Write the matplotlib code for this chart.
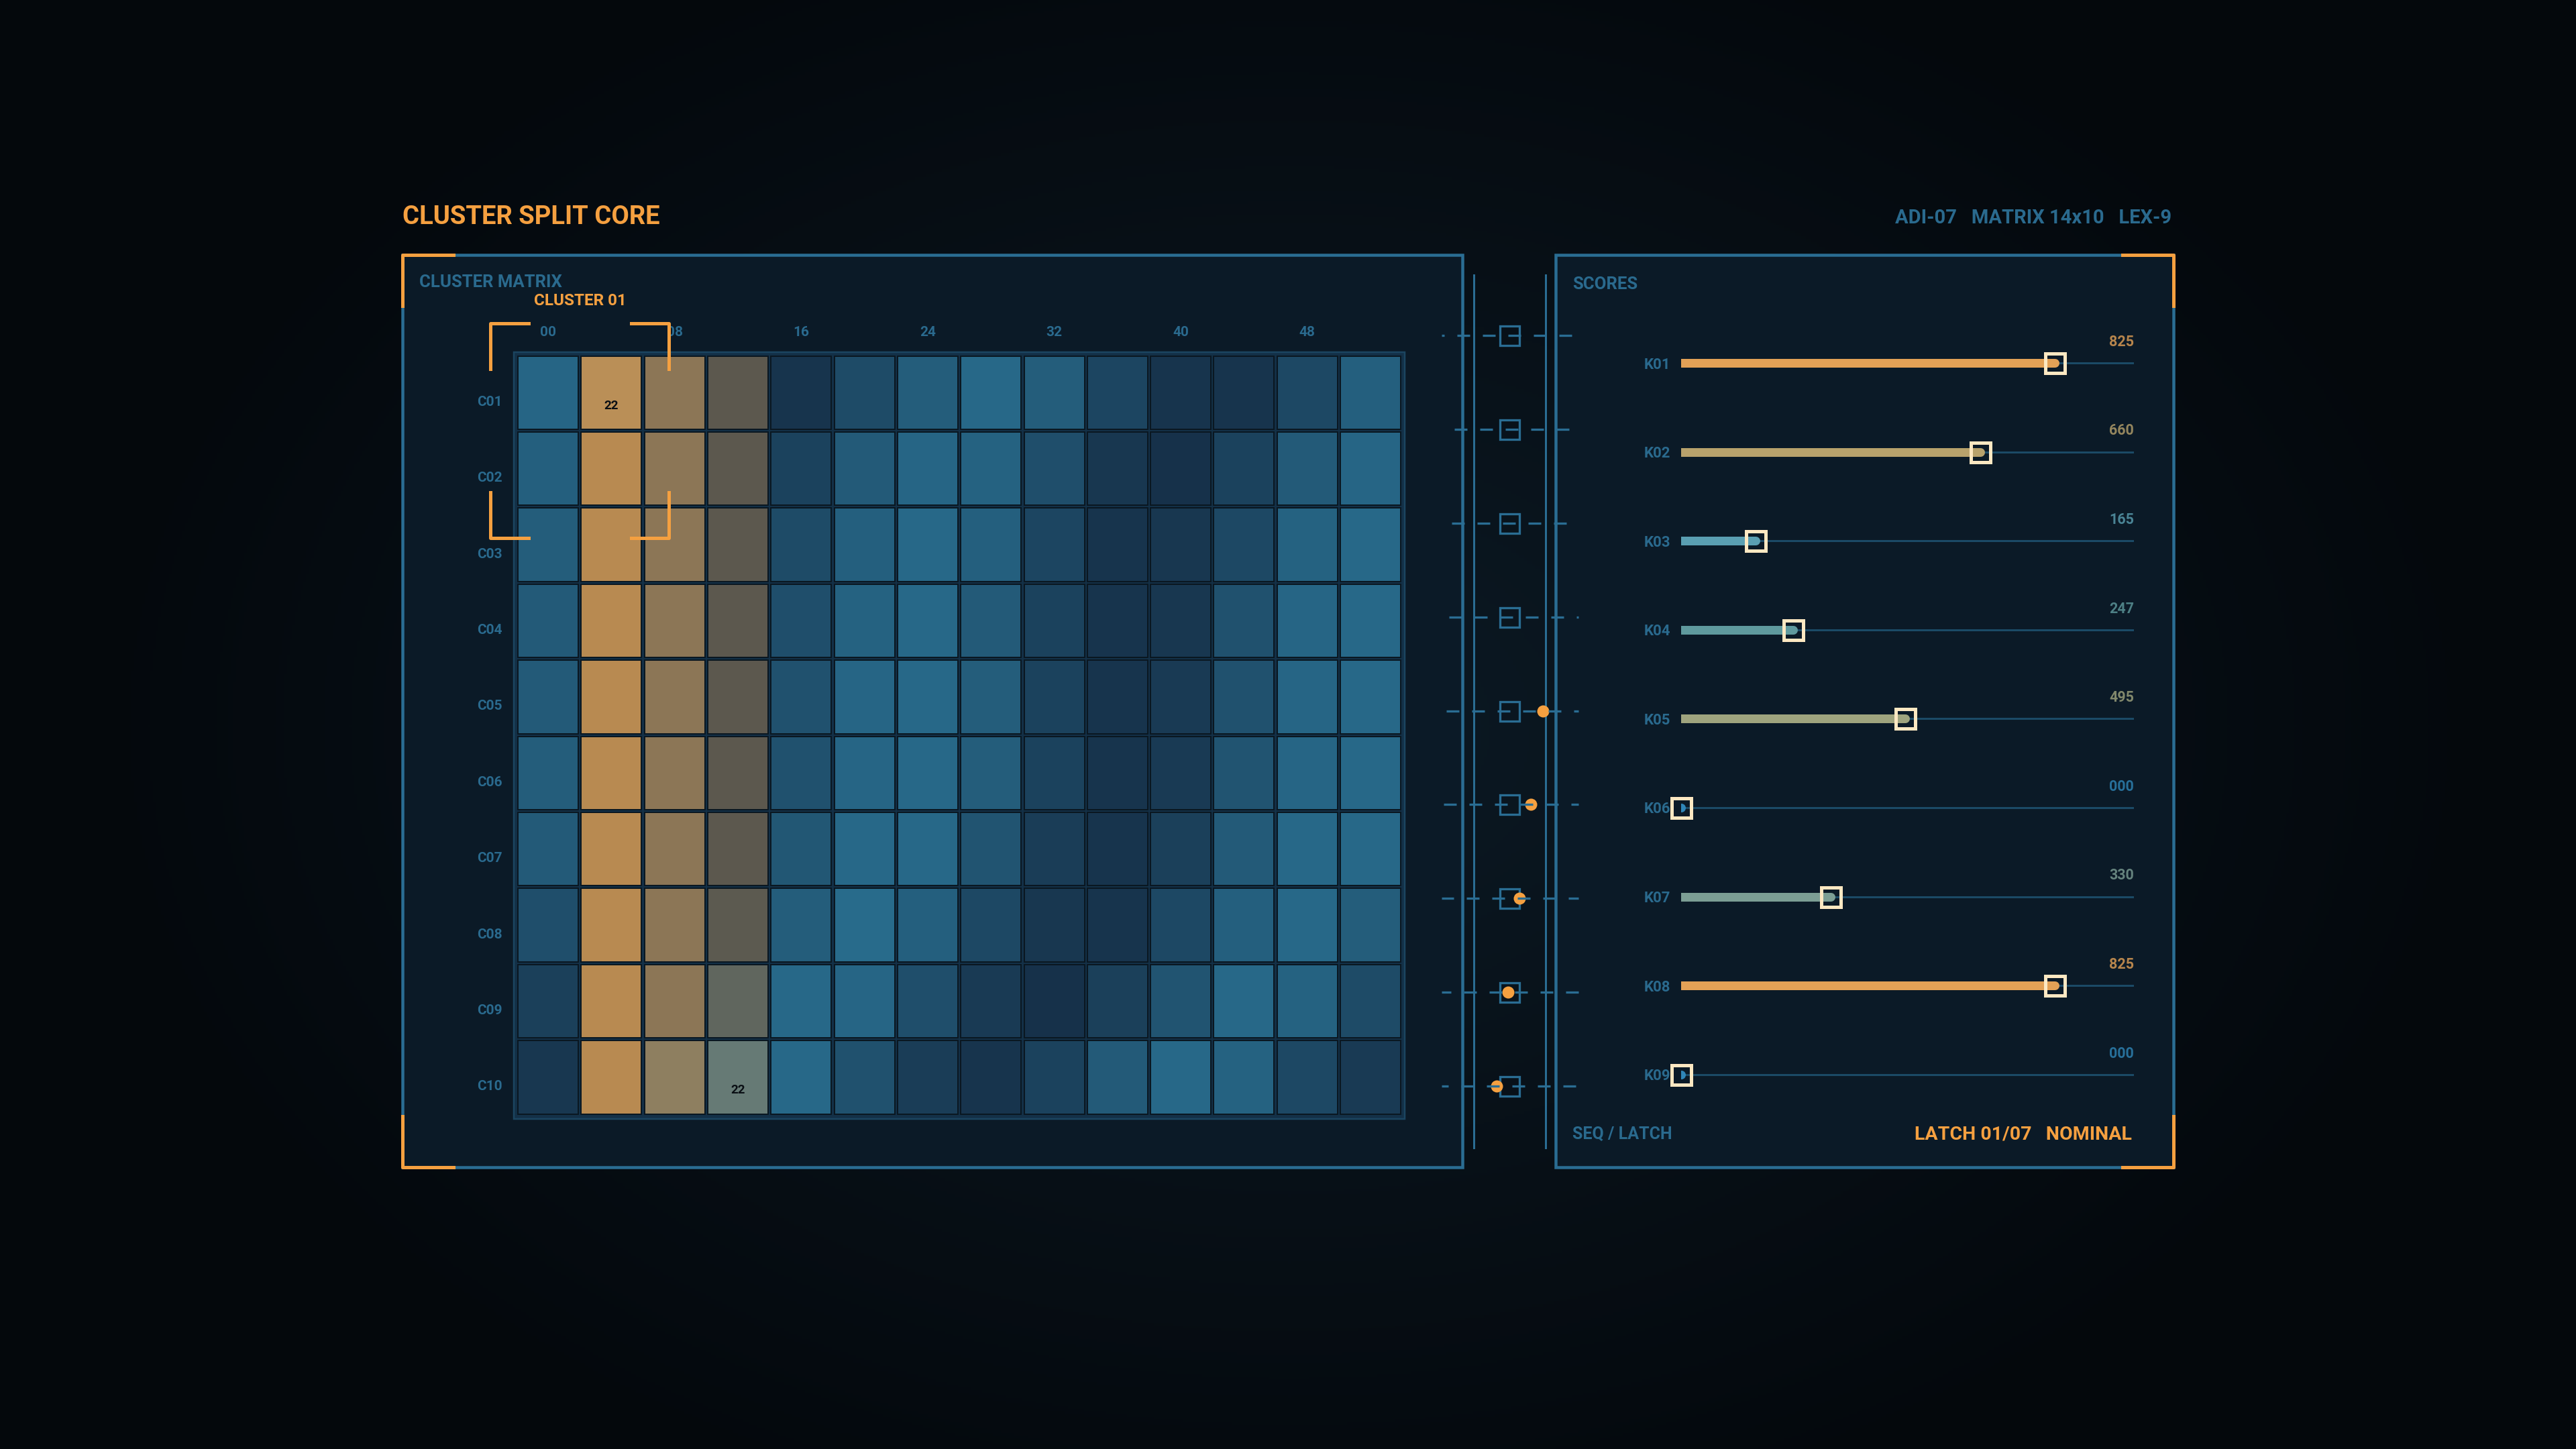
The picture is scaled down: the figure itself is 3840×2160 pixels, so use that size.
import numpy as np
import matplotlib.pyplot as plt
from matplotlib.patches import Rectangle
from matplotlib.colors import LinearSegmentedColormap, Normalize, to_rgb
import matplotlib.transforms as mtransforms

plt.rcParams['font.family'] = ['Liberation Sans Narrow', 'Roboto', 'DejaVu Sans']
plt.rcParams['font.weight'] = 'bold'
plt.rcParams['lines.scale_dashes'] = False

W, H = 3840, 2160
PX = 0.72  # points per pixel at dpi 100

# ---- data ----
row_labels = [f"C{i:02d}" for i in range(1, 11)]
col_ticks = list(range(0, 14, 2))
col_tick_labels = [f"{c * 4:02d}" for c in col_ticks]

# cell intensity (0 dark .. 1 bright), rows C01..C10, 14 columns
matrix = np.array([
    [0.90, 1.00, 0.50, 0.15, 0.05, 0.45, 0.75, 0.95, 0.75, 0.35, 0.05, 0.05, 0.40, 0.80],
    [0.80, 0.70, 0.50, 0.15, 0.30, 0.70, 0.90, 0.85, 0.50, 0.10, 0.00, 0.30, 0.70, 0.90],
    [0.75, 0.70, 0.50, 0.15, 0.45, 0.80, 0.95, 0.80, 0.35, 0.05, 0.10, 0.40, 0.85, 0.95],
    [0.70, 0.70, 0.50, 0.15, 0.50, 0.85, 0.95, 0.70, 0.30, 0.05, 0.10, 0.55, 0.90, 0.95],
    [0.70, 0.70, 0.50, 0.15, 0.55, 0.90, 0.95, 0.75, 0.30, 0.05, 0.15, 0.55, 0.90, 0.95],
    [0.75, 0.70, 0.50, 0.15, 0.55, 0.90, 0.95, 0.75, 0.30, 0.05, 0.15, 0.60, 0.90, 0.95],
    [0.70, 0.70, 0.50, 0.15, 0.65, 0.95, 0.95, 0.60, 0.20, 0.05, 0.25, 0.70, 0.95, 0.95],
    [0.50, 0.70, 0.50, 0.20, 0.75, 1.00, 0.80, 0.40, 0.10, 0.05, 0.40, 0.80, 0.95, 0.75],
    [0.25, 0.70, 0.50, 0.50, 0.95, 0.90, 0.50, 0.15, 0.00, 0.25, 0.60, 0.95, 0.85, 0.45],
    [0.10, 0.70, 0.80, 1.00, 0.95, 0.55, 0.20, 0.05, 0.30, 0.70, 0.95, 0.85, 0.40, 0.15],
])
# how strongly each column belongs to the highlighted cluster
cluster_weight = [0, 0.7, 0.5, 0.3, 0, 0, 0, 0, 0, 0, 0, 0, 0, 0]
cluster_name = "CLUSTER 01"
cluster_focus = (0.5, 0.5)
cell_notes = [(0, 1, "22"), (9, 3, "22")]

# sequence / latch strip
seq_rows = 9
latch_offset = [None, None, None, None, 50, 32, 15, -2, -19]

score_labels = [f"K{i:02d}" for i in range(1, 10)]
scores = [825, 660, 165, 247, 495, 0, 330, 825, 0]

ORANGE = '#f5a040'
STEEL = '#2a6a8e'
EDGE = '#2a6d93'
PANEL = '#0b1a27'

blue_cmap = LinearSegmentedColormap.from_list('cells', ['#16314a', '#286b8b'])
score_cmap = LinearSegmentedColormap.from_list(
    'scores', [(0, '#2f86b8'), (0.2, '#5a9fb2'), (0.3, '#5f9a9e'), (0.4, '#7c9e94'),
               (0.6, '#9fa47e'), (0.8, '#b8a26c'), (1.0, '#e3a156')])
blend_to = np.array(to_rgb('#f89e41'))


def rect_px(x0, y0, x1, y1):
    return [x0 / W, 1 - y1 / H, (x1 - x0) / W, (y1 - y0) / H]


fig = plt.figure(figsize=(38.4, 21.6), dpi=100)

# ---- background + panels ----
bg = fig.add_axes([0, 0, 1, 1])
bg.set_xlim(0, W)
bg.set_ylim(H, 0)
bg.axis('off')
yy, xx = np.mgrid[0:H:4, 0:W:4]
r = np.sqrt(((xx - 1920) / 1800.0) ** 2 + ((yy - 1080) / 1250.0) ** 2)
t = np.clip(r, 0, 1)[..., None]
c0 = np.array(to_rgb('#0c1a25'))
c1 = np.array(to_rgb('#04080c'))
bg.imshow(c0 * (1 - t) + c1 * t, extent=(0, W, H, 0), aspect='auto', zorder=0)

for x0, y0, w, h in [(600, 380, 1580, 1360), (2319, 380, 921, 1360)]:
    bg.add_patch(Rectangle((x0, y0), w, h, fc=PANEL, ec=EDGE, lw=4.5 * PX, zorder=1))

arm = 76
for (cx, cy, sx, sy) in [(600, 380, 1, 1), (600, 1740, 1, -1), (3240, 380, -1, 1), (3240, 1740, -1, -1)]:
    bg.plot([cx + sx * arm, cx, cx], [cy, cy, cy + sy * arm], color=ORANGE, lw=5 * PX, zorder=2)

for sx in (2197, 2304):
    bg.plot([sx, sx], [410, 1711], color=EDGE, lw=3 * PX, zorder=2)

bg.text(600, 323, "CLUSTER SPLIT CORE", ha='left', va='center', fontsize=27.5, color=ORANGE)
bg.text(3237, 325, "ADI-07   MATRIX 14x10   LEX-9", ha='right', va='center', fontsize=21, color=STEEL)
bg.text(625, 421, "CLUSTER MATRIX", ha='left', va='center', fontsize=18.5, color=STEEL)
bg.text(2344, 424, "SCORES", ha='left', va='center', fontsize=18.5, color=STEEL)
bg.text(2344, 1691, "SEQ / LATCH", ha='left', va='center', fontsize=18, color=STEEL)
bg.text(3178, 1691, "LATCH 01/07   NOMINAL", ha='right', va='center', fontsize=20.5, color=ORANGE)

# ---- matrix ----
nrows, ncols = matrix.shape
mx0, my0, pw, ph = 770, 528.6, 94.3, 113.4
axm = fig.add_axes(rect_px(mx0, my0, mx0 + ncols * pw, my0 + nrows * ph))
axm.set_xlim(-0.5, ncols - 0.5)
axm.set_ylim(nrows - 0.5, -0.5)
axm.set_facecolor('none')
for s in axm.spines.values():
    s.set_visible(False)

axm.add_patch(Rectangle((-0.54, -0.53), ncols + 0.08, nrows + 0.08, fc='#133047', ec='#1b4560',
                        lw=2.5 * PX, clip_on=False, zorder=0))
cw, ch = 0.955, 0.964
for i in range(nrows):
    for j in range(ncols):
        base = np.array(blue_cmap(matrix[i, j])[:3])
        wgt = cluster_weight[j]
        col = base * (1 - wgt) + blend_to * wgt
        axm.add_patch(Rectangle((j - cw / 2, i - ch / 2), cw, ch, fc=col, ec='#0a1721',
                                lw=2 * PX, zorder=1))
for i, j, txt in cell_notes:
    axm.text(j, i + 0.17, txt, ha='center', va='center', fontsize=13.5, color='#0a0f14', zorder=3)

axm.xaxis.tick_top()
axm.set_xticks(col_ticks)
axm.set_xticklabels(col_tick_labels)
axm.set_yticks(range(nrows))
axm.set_yticklabels(row_labels)
axm.tick_params(axis='x', length=0, pad=24 * PX, labelsize=15, labelcolor=STEEL)
axm.tick_params(axis='y', length=0, pad=21 * PX, labelsize=15, labelcolor=STEEL)
shift = mtransforms.ScaledTranslation(0, -0.12, fig.dpi_scale_trans)
for lbl in axm.get_yticklabels():
    lbl.set_transform(lbl.get_transform() + shift)

# cluster focus brackets
fx, fy = cluster_focus
half, a = 1.41, 0.6
for sx in (-1, 1):
    for sy in (-1, 1):
        cx, cy = fx + sx * half, fy + sy * half
        axm.plot([cx - sx * a, cx, cx], [cy, cy, cy - sy * a * 1.0], color=ORANGE,
                 lw=5 * PX, clip_on=False, zorder=4)
axm.text(fx - 0.72, fy - 1.71, cluster_name, ha='left', va='center', fontsize=17.5,
         color=ORANGE, clip_on=False)

# ---- sequence strip ----
sp = 139.9
axs = fig.add_axes(rect_px(2140, 430, 2360, 430 + seq_rows * sp))
axs.set_xlim(-110, 110)
axs.set_ylim(seq_rows - 0.5, -0.5)
axs.axis('off')
rows = np.arange(seq_rows)
axs.plot(np.zeros(seq_rows), rows, 's', ms=29 * PX, mfc='none', mec=EDGE, mew=3.3 * PX, zorder=2)
for i, off in enumerate(latch_offset):
    if off is not None:
        axs.plot([off], [i], 'o', ms=18 * PX, color=ORANGE, mew=0, zorder=3)
for i in rows:
    phase = (15 + 4 * i) % 38
    axs.plot([-101, 103], [i, i], color=EDGE, lw=3.3 * PX,
             linestyle=(phase * PX, (19 * PX, 19 * PX)), zorder=4)

# ---- scores ----
kp = 132.6
axk = fig.add_axes(rect_px(2506, 541 - kp / 2, 3181, 541 + 8 * kp + kp / 2))
axk.set_xlim(0, 1000)
axk.set_ylim(len(scores) - 0.5, -0.5)
axk.set_facecolor('none')
for s in axk.spines.values():
    s.set_visible(False)
krows = np.arange(len(scores))
norm = Normalize(0, max(scores))
axk.hlines(krows, 0, 1000, color='#1b4a66', lw=3 * PX, zorder=1)
for i, v in enumerate(scores):
    c = score_cmap(norm(v))
    axk.plot([0, v], [i, i], color=c, lw=13 * PX, solid_capstyle='round', zorder=2)
    axk.plot([0], [i], 'o', ms=13 * PX, color=c, mew=0, zorder=2)
    axk.text(1000, i - 0.235, f"{v:03d}", ha='right', va='center', fontsize=15.5,
             color=c, alpha=0.8)
axk.plot(scores, krows, 's', ms=29 * PX, mfc='none', mec='#fde8c2', mew=5 * PX,
         clip_on=False, zorder=3)
axk.set_xticks([])
axk.set_yticks(krows)
axk.set_yticklabels(score_labels)
axk.tick_params(axis='y', length=0, pad=16 * PX, labelsize=16, labelcolor=STEEL)

fig.savefig('out.png', dpi=100, facecolor='#04080c')
